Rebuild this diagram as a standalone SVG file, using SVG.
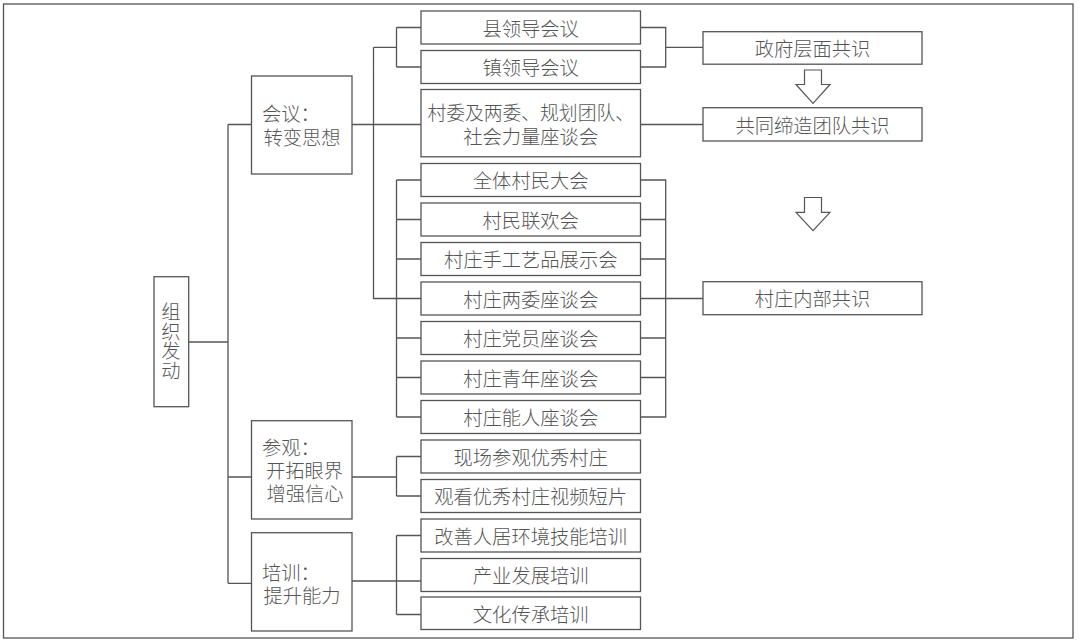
<svg xmlns="http://www.w3.org/2000/svg" width="1080" height="643" viewBox="0 0 1080 643">
<style>
.bx{fill:#fff;stroke:#555;stroke-width:1.3}
.ln{fill:none;stroke:#555;stroke-width:1.3}
.t{font-family:"Noto Sans CJK SC","Noto Sans",sans-serif;font-size:19.3px;font-weight:300;fill:#555;dominant-baseline:central}
.c{text-anchor:middle}
.v{writing-mode:vertical-rl;dominant-baseline:auto}
.ar{fill:#fff;stroke:#555;stroke-width:1.2;stroke-linejoin:miter}
</style>
<rect width="1080" height="643" fill="#fff"/>
<rect x="3.5" y="4" width="1069.5" height="634" fill="none" stroke="#555" stroke-width="1.3"/>

<g id="connectors">
<path class="ln" d="M188.7,342H228M228,124.5V583.3M228,124.5H251.5M228,477H251.5M228,583.3H251.5"/>
<path class="ln" d="M352,124.5H421M373.5,47.3V298.5H421M373.5,47.3H396.5M396.5,27.5V67M396.5,27.5H421M396.5,67H421"/>
<path class="ln" d="M396.5,180V417M396.5,180H421M396.5,219.5H421M396.5,259H421M396.5,338H421M396.5,377.5H421M396.5,417H421"/>
<path class="ln" d="M352,477H396.5M396.5,456.5V496M396.5,456.5H421M396.5,496H421"/>
<path class="ln" d="M352,581H421M396.5,535.5V614.5M396.5,535.5H421M396.5,614.5H421"/>
<path class="ln" d="M640.5,27.5H665.7V67H640.5M665.7,47.3H703M640.5,124.5H703"/>
<path class="ln" d="M640.5,180H665.7V417H640.5M640.5,219.5H665.7M640.5,259H665.7M640.5,298.5H703M640.5,338H665.7M640.5,377.5H665.7"/>
<polygon class="ar" points="804.5,70 821.5,70 821.5,84.5 830,84.5 813,103.3 796,84.5 804.5,84.5"/>
<polygon class="ar" points="804.5,197.5 821.5,197.5 821.5,212.3 830,212.3 813,230.7 796,212.3 804.5,212.3"/>
</g>

<g id="n-root"><rect class="bx" x="154" y="276.7" width="34.7" height="130"/>
<text class="t v" x="171" y="302.3" style="letter-spacing:0.2px">组织发动</text></g>

<g id="n-meeting"><rect class="bx" x="251.5" y="76" width="100.5" height="98"/>
<text class="t"><tspan x="262" y="113.3">会议：</tspan><tspan x="263.5" y="136.7">转变思想</tspan></text></g>
<g id="n-visit"><rect class="bx" x="251.5" y="420.7" width="100.5" height="98.3"/>
<text class="t"><tspan x="262" y="446.7">参观：</tspan><tspan x="266" y="470">开拓眼界</tspan><tspan x="266.5" y="493.3">增强信心</tspan></text></g>
<g id="n-train"><rect class="bx" x="251.5" y="532.7" width="100.5" height="98.3"/>
<text class="t"><tspan x="262" y="571.7">培训：</tspan><tspan x="263.5" y="595">提升能力</tspan></text></g>

<g id="n-county"><rect class="bx" x="421" y="11" width="219.5" height="33"/><text class="t c" x="530.7" y="27.5">县领导会议</text></g>
<g id="n-town"><rect class="bx" x="421" y="50.5" width="219.5" height="33"/><text class="t c" x="530.7" y="67">镇领导会议</text></g>
<g id="n-forum"><rect class="bx" x="421" y="89.5" width="219.5" height="67.3"/><text class="t c"><tspan x="530.7" y="110.5" style="font-size:18.8px">村委及两委、规划团队、</tspan><tspan x="530.7" y="135.5">社会力量座谈会</tspan></text></g>
<g id="n-v1"><rect class="bx" x="421" y="163.5" width="219.5" height="33"/><text class="t c" x="530.7" y="180">全体村民大会</text></g>
<g id="n-v2"><rect class="bx" x="421" y="203" width="219.5" height="33"/><text class="t c" x="530.7" y="219.5">村民联欢会</text></g>
<g id="n-v3"><rect class="bx" x="421" y="242.5" width="219.5" height="33"/><text class="t c" x="530.7" y="259">村庄手工艺品展示会</text></g>
<g id="n-v4"><rect class="bx" x="421" y="282" width="219.5" height="33"/><text class="t c" x="530.7" y="298.5">村庄两委座谈会</text></g>
<g id="n-v5"><rect class="bx" x="421" y="321.5" width="219.5" height="33"/><text class="t c" x="530.7" y="338">村庄党员座谈会</text></g>
<g id="n-v6"><rect class="bx" x="421" y="361" width="219.5" height="33"/><text class="t c" x="530.7" y="377.5">村庄青年座谈会</text></g>
<g id="n-v7"><rect class="bx" x="421" y="400.5" width="219.5" height="33"/><text class="t c" x="530.7" y="417">村庄能人座谈会</text></g>
<g id="n-s1"><rect class="bx" x="421" y="440" width="219.5" height="33"/><text class="t c" x="530.7" y="456.5">现场参观优秀村庄</text></g>
<g id="n-s2"><rect class="bx" x="421" y="479.5" width="219.5" height="33"/><text class="t c" x="530.7" y="496">观看优秀村庄视频短片</text></g>
<g id="n-p1"><rect class="bx" x="421" y="519" width="219.5" height="33"/><text class="t c" x="530.7" y="535.5">改善人居环境技能培训</text></g>
<g id="n-p2"><rect class="bx" x="421" y="558.5" width="219.5" height="33"/><text class="t c" x="530.7" y="575">产业发展培训</text></g>
<g id="n-p3"><rect class="bx" x="421" y="597" width="219.5" height="32.5"/><text class="t c" x="530.7" y="613.5">文化传承培训</text></g>

<g id="n-gov"><rect class="bx" x="703" y="31.7" width="219" height="32.5"/><text class="t c" x="812.5" y="48">政府层面共识</text></g>
<g id="n-team"><rect class="bx" x="703" y="107.7" width="219" height="33.3"/><text class="t c" x="812.5" y="124.5">共同缔造团队共识</text></g>
<g id="n-village"><rect class="bx" x="703" y="281.7" width="219" height="33"/><text class="t c" x="812.5" y="298.2">村庄内部共识</text></g>
</svg>
